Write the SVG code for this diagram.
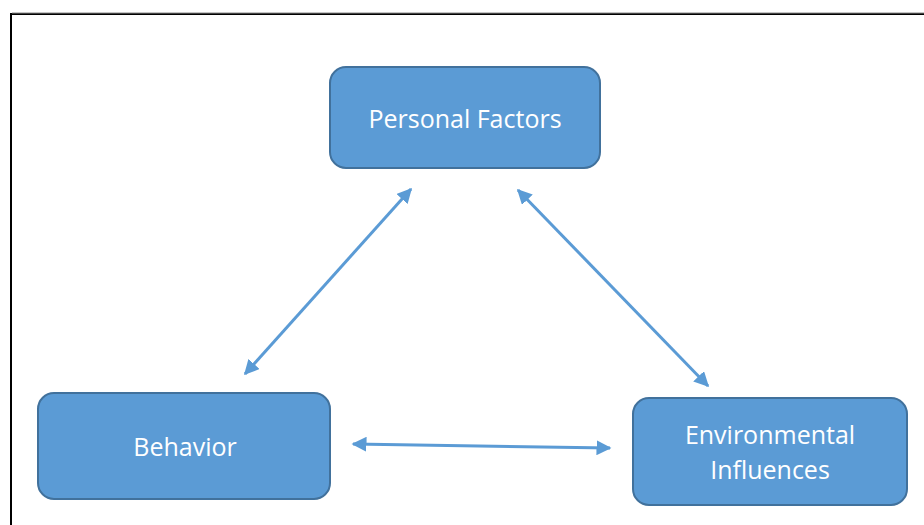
<svg xmlns="http://www.w3.org/2000/svg" width="924" height="525" viewBox="0 0 924 525">
<style>
.box{fill:#5B9BD5;stroke:#41719C;stroke-width:2}
.lbl{font-family:"Open Sans","Noto Sans","Liberation Sans",sans-serif;font-size:25px;fill:#ffffff;text-anchor:middle}
.conn{stroke:#5B9BD5;stroke-width:3;fill:none;marker-start:url(#ah);marker-end:url(#ah)}
</style>
<defs>
<marker id="ah" viewBox="0 0 10 10" refX="9" refY="5" markerWidth="5" markerHeight="5" orient="auto-start-reverse" markerUnits="strokeWidth">
<path d="M0,0 L10,5 L0,10 z" fill="#5B9BD5"/>
</marker>
</defs>
<rect width="924" height="525" fill="#ffffff"/>
<path d="M11,525 V14 H924" fill="none" stroke="#000000" stroke-width="2"/>
<path d="M12,13 H924" fill="none" stroke="#888888" stroke-width="1"/>
<g id="connectors">
<line class="conn" x1="411" y1="189" x2="245" y2="374"/>
<line class="conn" x1="518" y1="190" x2="708" y2="386"/>
<line class="conn" x1="353" y1="444" x2="610" y2="448"/>
</g>
<g id="personal">
<rect class="box" x="330" y="67" width="270" height="101" rx="16"/>
<text class="lbl" x="465" y="128">Personal Factors</text>
</g>
<g id="behavior">
<rect class="box" x="38" y="393" width="292" height="106" rx="16"/>
<text class="lbl" x="185" y="456">Behavior</text>
</g>
<g id="environmental">
<rect class="box" x="633" y="398" width="274" height="107" rx="16"/>
<text class="lbl" x="770" y="444">Environmental</text>
<text class="lbl" x="770" y="479">Influences</text>
</g>
</svg>
